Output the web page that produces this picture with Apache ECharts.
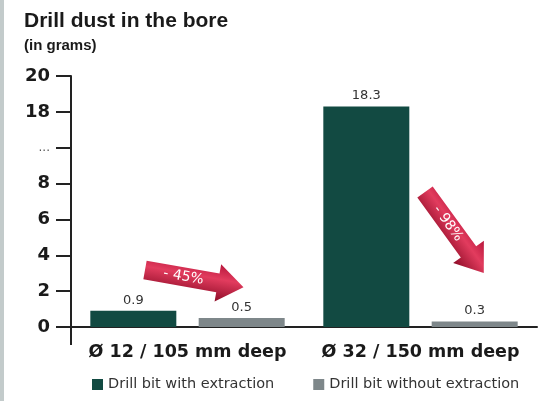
<!DOCTYPE html>
<html>
<head>
<meta charset="utf-8">
<script src="https://cdn.jsdelivr.net/npm/echarts@6/dist/echarts.min.js"></script>
<style>
  html, body { margin: 0; padding: 0; background: #fff; }
  #chart { width: 541px; height: 401px; }
</style>
</head>
<body>
<div id="chart"></div>
<script>
// data
const categories = ['Ø 12 / 105 mm deep', 'Ø 32 / 150 mm deep'];
const withExtraction = [0.9, 18.3];
const withoutExtraction = [0.5, 0.3];
const seriesNames = ['Drill bit with extraction', 'Drill bit without extraction'];
// broken axis: 0..8 normal, "..." then 18, 20
const tickLabels = ['0', '2', '4', '6', '8', '...', '18', '20'];
const breakAt = 10;   // axis position of "..."
const breakSkip = 6;  // 18 is drawn where 12 would be

// map a real value onto the broken axis
function toAxis(v) {
  return v > breakAt ? v - breakSkip : v;
}

const fontHead = '"Liberation Sans", Arial, sans-serif';
const fontWide = '"DejaVu Sans", sans-serif';

const arrowFill = new echarts.graphic.LinearGradient(0, 0, 0, 1, [
  { offset: 0, color: '#b8163c' },
  { offset: 0.4, color: '#e23c5e' },
  { offset: 1, color: '#8e0c27' }
]);

// red annotation arrow, x/y = tail centre, angle in degrees (down is positive)
function arrow(x, y, angle, text) {
  const L = 100, hl = 26, bw = 9.5, hw = 19;
  return {
    type: 'group',
    x: x,
    y: y,
    rotation: -angle * Math.PI / 180,
    children: [
      {
        type: 'polygon',
        shape: { points: [[0, -bw], [L - hl, -bw], [L - hl, -hw], [L, 0], [L - hl, hw], [L - hl, bw], [0, bw]] },
        style: { fill: arrowFill }
      },
      {
        type: 'text',
        x: (L - hl) / 2 + 2,
        y: 0,
        style: { text: text, fill: '#fff', font: '14px ' + fontWide, align: 'center', verticalAlign: 'middle' }
      }
    ]
  };
}

const chart = echarts.init(document.getElementById('chart'));

chart.setOption({
  backgroundColor: '#fff',
  animation: false,
  title: {
    text: 'Drill dust in the bore',
    subtext: '(in grams)',
    left: 19,
    top: 6,
    itemGap: 6,
    textStyle: { fontFamily: fontHead, fontSize: 21, fontWeight: 'bold', color: '#1a1a1a' },
    subtextStyle: { fontFamily: fontHead, fontSize: 15, fontWeight: 'bold', color: '#1a1a1a' }
  },
  legend: {
    left: 92,
    top: 377,
    padding: 0,
    icon: 'rect',
    itemWidth: 11,
    itemHeight: 11,
    itemGap: 39,
    textStyle: { fontFamily: fontWide, fontSize: 14.5, color: '#333' },
    data: seriesNames
  },
  grid: { left: 71, right: 4, top: 76, bottom: 74, containLabel: false },
  xAxis: {
    type: 'category',
    data: categories,
    axisLine: { lineStyle: { color: '#222', width: 2 } },
    axisTick: { show: false },
    axisLabel: { interval: 0, fontFamily: fontWide, fontSize: 17.5, fontWeight: 'bold', color: '#1a1a1a', margin: 16 }
  },
  yAxis: {
    type: 'value',
    min: 0,
    max: 14,
    interval: 2,
    axisLine: { show: true, lineStyle: { color: '#222', width: 2 } },
    axisTick: { show: true, inside: false, length: 15, lineStyle: { color: '#222', width: 2 } },
    splitLine: { show: false },
    axisLabel: {
      fontFamily: fontWide,
      fontSize: 18,
      fontWeight: 'bold',
      color: '#1a1a1a',
      margin: 21,
      formatter: function (v) {
        const t = tickLabels[Math.round(v / 2)];
        return t === '...' ? '{dots|' + t + '}' : t;
      },
      rich: {
        dots: { fontFamily: fontWide, fontSize: 12, fontWeight: 'normal', color: '#555' }
      }
    }
  },
  series: [
    {
      name: seriesNames[0],
      type: 'bar',
      barWidth: 86,
      barGap: '26%',
      itemStyle: { color: '#124a42' },
      data: withExtraction.map(toAxis),
      label: {
        show: true,
        position: 'top',
        distance: 4,
        fontFamily: fontWide,
        fontSize: 13,
        color: '#333',
        formatter: function (p) { return withExtraction[p.dataIndex]; }
      }
    },
    {
      name: seriesNames[1],
      type: 'bar',
      barWidth: 86,
      itemStyle: { color: '#7e878a' },
      data: withoutExtraction.map(toAxis),
      label: {
        show: true,
        position: 'top',
        distance: 4,
        fontFamily: fontWide,
        fontSize: 13,
        color: '#333',
        formatter: function (p) { return withoutExtraction[p.dataIndex]; }
      }
    }
  ],
  graphic: [
    // grey strip on the left edge
    { type: 'rect', left: 0, top: 0, shape: { width: 4, height: 401 }, style: { fill: '#c3cbcb' } },
    // y axis runs a little below the zero line
    { type: 'line', shape: { x1: 71, y1: 327, x2: 71, y2: 345 }, style: { stroke: '#222', lineWidth: 2 } },
    arrow(145, 270, 10, '- 45%'),
    arrow(425, 192, 54, '- 98%')
  ]
});
</script>
</body>
</html>
